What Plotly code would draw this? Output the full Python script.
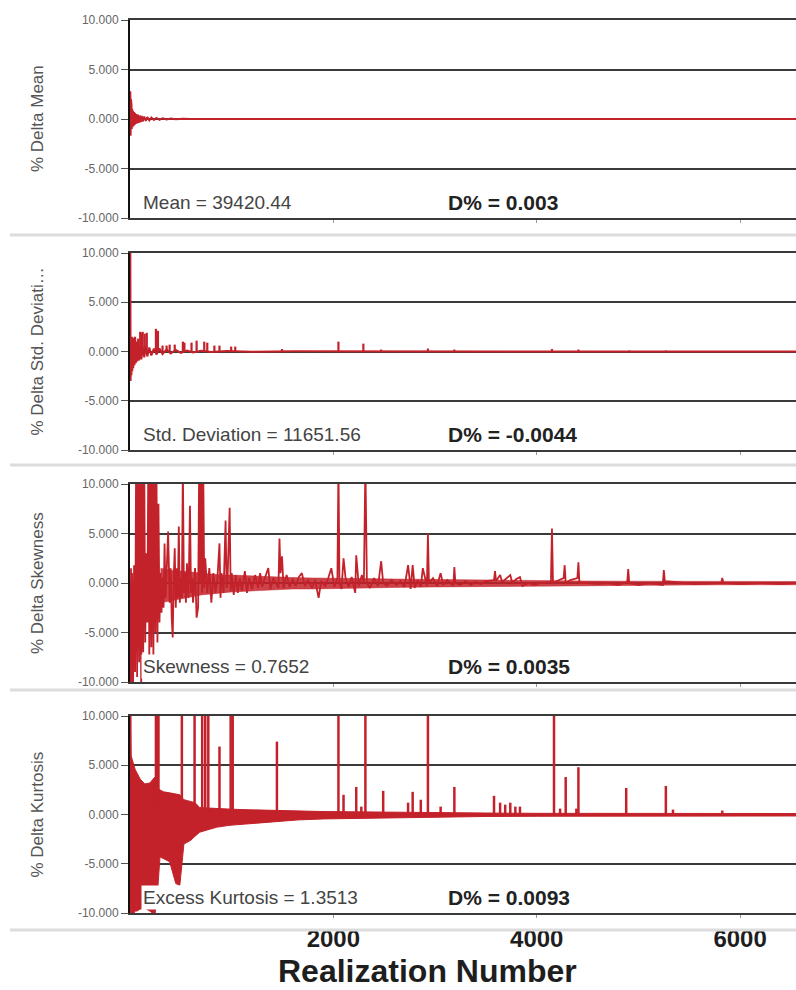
import plotly.graph_objects as go

# ---------------- text / ticks ----------------
x_tick_vals = [2000, 4000, 6000]
x_tick_text = ["2000", "4000", "6000"]
y_tick_vals = [-10, -5, 0, 5, 10]
y_tick_text = ["-10.000", "-5.000", "0.000", "5.000", "10.000"]

panel_titles = ["% Delta Mean", "% Delta Std. Deviati\u2026", "% Delta Skewness", "% Delta Kurtosis"]
stat_labels = ["Mean = 39420.44", "Std. Deviation = 11651.56", "Skewness = 0.7652", "Excess Kurtosis = 1.3513"]
delta_labels = ["D% = 0.003", "D% = -0.0044", "D% = 0.0035", "D% = 0.0093"]
x_title = "Realization Number"

# ---------------- panel 1 : mean ----------------
mean_x = [0, 3, 6, 9, 12, 15, 18, 22, 26, 30,
          35, 40, 45, 50, 56, 62, 70, 78, 86, 95,
          105, 115, 125, 140, 155, 170, 190, 210, 235, 260,
          290, 320, 360, 400, 450, 520, 600, 800, 1200, 2000,
          3000, 4000, 5000, 6000, 6550]
mean_y = [0, 2.8, -1.7, 2.0, -1.2, 1.4, -1.0, 1.0, -0.8, 0.8,
          -0.7, 0.7, -0.6, 0.6, -0.5, 0.5, -0.45, 0.45, -0.4, 0.35,
          -0.3, 0.3, -0.25, 0.25, -0.2, 0.2, -0.15, 0.15, -0.1, 0.1,
          -0.08, 0.08, -0.05, 0.05, -0.03, 0.03, 0.0, 0.02, 0.0, 0.01,
          0.0, 0.0, 0.0, 0.0, 0.0]

# ---------------- panel 2 : std deviation ----------------
std_x = [0, 3, 6, 10, 14, 18, 22, 27, 32, 38,
         44, 50, 57, 64, 72, 80, 90, 100, 112, 125,
         140, 155, 170, 190, 210, 235, 260, 290, 320, 360,
         400, 450, 500, 560, 620, 700, 800, 950, 1200, 1600,
         2200, 3000, 4000, 5000, 6000, 6550]
std_y = [0, 12, -3.0, 1.2, -2.4, 1.5, -2.0, 1.0, -1.7, 1.4,
         -1.4, 0.9, -1.2, 1.0, -1.0, 0.7, -0.9, 0.6, -0.8, 0.5,
         -0.6, 0.5, -0.5, 0.4, -0.4, 0.3, -0.3, 0.3, -0.25, 0.2,
         -0.2, 0.15, -0.15, 0.1, -0.1, 0.08, -0.06, 0.05, -0.03, 0.02,
         0.0, 0.01, 0.0, 0.0, 0.0, 0.0]
std_spike_x = [50, 80, 100, 115, 125, 145, 165, 255, 275, 320,
               360, 390, 440, 520, 535, 605, 655, 730, 760, 830,
               880, 995, 1035, 1495, 2050, 2295, 2470, 2930, 3190, 4150,
               4410, 4910, 5270]
std_spike_y = [1.5, 1.3, 2.0, 1.9, 2.0, 1.8, 1.9, 2.3, 2.1, 0.6,
               0.6, 0.7, 0.7, 1.0, 0.9, 0.9, 1.1, 1.0, 0.9, 0.6,
               0.6, 0.5, 0.5, 0.25, 1.0, 0.8, 0.2, 0.3, 0.2, 0.25,
               0.2, 0.1, 0.1]

# ---------------- panel 3 : skewness ----------------
skew_x = [0, 5, 10, 15, 20, 30, 40, 50, 60, 70,
          80, 90, 100, 110, 120, 130, 140, 150, 160, 170,
          180, 190, 200, 210, 220, 230, 240, 250, 260, 270,
          280, 290, 300, 310, 320, 330, 340, 350, 360, 375,
          390, 400, 410, 420, 430, 440, 450, 460, 470, 480,
          490, 500, 510, 520, 530, 540, 550, 560, 575, 590,
          600, 610, 620, 640, 655, 670, 680, 690, 700, 710,
          720, 730, 740, 760, 780, 800, 820, 840, 860, 880,
          890, 900, 920, 940, 950, 960, 980, 990, 1000, 1020,
          1040, 1060, 1080, 1100, 1130, 1150, 1170, 1200, 1230, 1260,
          1280, 1300, 1330, 1360, 1380, 1410, 1460, 1470, 1480, 1495,
          1510, 1540, 1570, 1600, 1630, 1660, 1690, 1720, 1750, 1790,
          1820, 1855, 1880, 1920, 1950, 1980, 2010, 2040, 2050, 2060,
          2080, 2100, 2120, 2150, 2180, 2215, 2225, 2250, 2280, 2300,
          2315, 2330, 2360, 2400, 2440, 2470, 2490, 2530, 2570, 2620,
          2660, 2700, 2735, 2760, 2780, 2800, 2830, 2860, 2880, 2920,
          2930, 2940, 2980, 3020, 3055, 3080, 3120, 3180, 3190, 3200,
          3250, 3300, 3350, 3400, 3450, 3500, 3580, 3590, 3600, 3640,
          3660, 3700, 3740, 3760, 3800, 3835, 3860, 3920, 3980, 4040,
          4140, 4150, 4160, 4200, 4265, 4275, 4285, 4330, 4400, 4410,
          4420, 4500, 4600, 4700, 4800, 4890, 4900, 4910, 5000, 5100,
          5240, 5250, 5260, 5350, 5450, 5550, 5815, 5825, 5835, 6000,
          6200, 6400, 6550]
skew_y = [0, -12, 1.5, -12, 1.0, -10.5, 1.8, -9, 12, -9.5,
          12, -8, 12, -10.5, 12, -7, 12, -6, 3, -4,
          12, -7.5, 12, -6.5, 12, -7.5, 12, -5, 12, -6,
          8, -4, 1.0, -3, 0.5, -2.5, 4.0, -1.5, 1.0, 5.2,
          -2.0, 1.5, -3.5, -5.5, 0.5, 3.5, -2.5, 1.5, -1.5, 5.7,
          -2.0, 0.5, -1.5, 12, -1.0, 1.0, -2.0, 2.0, -1.5, 7.8,
          -1.0, 0.5, -2.0, 1.5, -3.5, -2.5, 12, 0, 12, -1.0,
          12, -0.5, 2.5, -1.0, 1.5, -2.0, 1.0, -1.0, 0.5, 4.0,
          -1.5, 1.0, -1.0, 6.3, -0.5, 0.5, 7.6, -0.8, 1.0, -1.2,
          0.8, -1.0, 0.5, -0.8, 1.2, -1.0, 0.5, -0.6, 0.8, -0.5,
          1.0, -0.4, 0.6, 1.5, -0.6, 0.5, -0.5, 4.5, 1.0, 2.7,
          -0.5, 0.8, -0.4, 0.4, -0.3, 0.6, 1.0, -0.3, 0.3, -0.5,
          0.3, -1.5, 0.2, -0.3, 0.5, 1.5, -0.4, 0.5, 12, 0.0,
          -0.6, 2.5, 0.5, -0.4, 0.6, -1.0, 2.8, -0.3, 0.8, 0.0,
          12, 0.0, -0.5, 0.5, -0.3, 2.2, 0.0, -0.3, 0.3, -0.2,
          0.2, -0.4, 1.8, -0.6, 1.8, -0.5, 0.3, -0.4, 1.5, -0.3,
          5.0, 0.0, 0.5, -0.3, 1.0, -0.2, 0.3, -0.3, 1.6, 0.0,
          -0.2, 0.2, -0.2, 0.1, -0.1, 0.2, 0.3, 1.2, 0.2, 0.8,
          0.1, 0.5, 0.8, 0.0, 0.4, 0.6, -0.3, 0.0, -0.2, 0.0,
          0.1, 5.5, 0.0, 0.2, 0.5, 1.8, 0.0, 0.3, 0.5, 2.1,
          0.0, 0.0, -0.1, 0.0, -0.2, 0.1, 1.4, 0.0, -0.2, 0.0,
          -0.2, 1.3, 0.2, 0.1, 0.0, -0.1, 0.0, 0.5, 0.0, -0.1,
          0.0, -0.1, 0.0]
# envelope of the dense fluctuation band around zero (skewness)
skew_band_x = [300, 400, 500, 600, 700, 800, 900, 1000, 1200, 1400,
               1600, 1800, 2000, 2300, 2600, 3000, 3500, 4000, 4500, 5000,
               5500, 6000, 6550]
skew_band_upper = [1.5, 1.3, 1.2, 1.1, 1.0, 0.9, 0.8, 0.8, 0.7, 0.6,
                   0.55, 0.5, 0.5, 0.45, 0.4, 0.35, 0.3, 0.25, 0.2, 0.18,
                   0.15, 0.15, 0.15]
skew_band_lower = [-2.0, -1.8, -1.6, -1.4, -1.2, -1.1, -1.0, -0.9, -0.8, -0.7,
                   -0.6, -0.6, -0.55, -0.5, -0.45, -0.4, -0.35, -0.3, -0.25, -0.22,
                   -0.2, -0.18, -0.18]

# ---------------- panel 4 : excess kurtosis ----------------
kurt_env_x = [0, 10, 30, 50, 70, 100, 145, 195, 245, 270,
              295, 330, 390, 450, 490, 530, 560, 600, 640, 685,
              750, 850, 975, 1100, 1270, 1450, 1650, 1900, 2150, 2400,
              2650, 3000, 3500, 4000, 5000, 6550]
kurt_upper = [12, 6.0, 5.3, 4.6, 4.2, 3.6, 3.1, 3.2, 3.8, 2.6,
              2.5, 2.3, 2.2, 2.1, 2.0, 1.5, 1.4, 1.3, 1.2, 0.7,
              0.65, 0.6, 0.55, 0.5, 0.45, 0.4, 0.35, 0.3, 0.28, 0.25,
              0.2, 0.18, 0.15, 0.12, 0.1, 0.1]
kurt_lower = [-12, -10.5, -10.2, -9.8, -9.8, -9.6, -9.5, -9.8, -10.2, -8.0,
              -4.3, -4.5, -4.8, -7.0, -7.2, -3.0, -2.8, -2.6, -2.2, -1.8,
              -1.6, -1.3, -1.1, -1.0, -0.8, -0.7, -0.55, -0.45, -0.4, -0.35,
              -0.3, -0.25, -0.2, -0.18, -0.15, -0.15]
kurt_spike_x = [3, 255, 265, 280, 510, 635, 710, 740, 770, 880,
                990, 1010, 1445, 2050, 2100, 2225, 2275, 2315, 2490, 2735,
                2780, 2860, 2930, 3055, 3190, 3580, 3640, 3690, 3740, 3790,
                3835, 4170, 4230, 4285, 4390, 4410, 4880, 5270, 5340, 5825]
kurt_spike_y = [12, 12, 12, 12, 12, 12, 12, 12, 12, 6.9,
                12, 12, 7.4, 12, 2.0, 2.8, 0.8, 12, 2.4, 1.2,
                2.3, 1.5, 12, 0.8, 2.8, 1.9, 1.2, 1.0, 1.2, 0.8,
                0.8, 12, 0.6, 3.8, 0.6, 4.8, 2.7, 2.9, 0.5, 0.4]

# ---------------- styling ----------------
RED = "#c3222a"
FONT = "Liberation Sans, Arial, sans-serif"
W, H = 796, 990
L_MARGIN = 130
# panel vertical extents in pixels (top, bottom)
panel_px = [(20, 218), (253, 450), (484, 682), (716, 913)]
separators_px = [235, 465, 690, 930]


def spikes(xs, ys):
    sx, sy = [], []
    for x, y in zip(xs, ys):
        sx += [x, x, None]
        sy += [0, y, None]
    return sx, sy


fig = go.Figure()


def add(trace, i):
    trace.update(xaxis="x" if i == 1 else f"x{i}", yaxis="y" if i == 1 else f"y{i}")
    fig.add_trace(trace)


add(go.Scatter(x=mean_x, y=mean_y, mode="lines", line=dict(color=RED, width=2)), 1)

add(go.Scatter(x=std_x, y=std_y, mode="lines", line=dict(color=RED, width=2)), 2)
sx, sy = spikes(std_spike_x, std_spike_y)
add(go.Scatter(x=sx, y=sy, mode="lines", line=dict(color=RED, width=2.2)), 2)

add(go.Scatter(x=skew_band_x, y=skew_band_lower, mode="lines", line=dict(color=RED, width=0.5)), 3)
add(go.Scatter(x=skew_band_x, y=skew_band_upper, mode="lines", line=dict(color=RED, width=0.5),
               fill="tonexty", fillcolor="rgba(195,34,42,0.85)"), 3)
add(go.Scatter(x=skew_x, y=skew_y, mode="lines", line=dict(color=RED, width=1.8)), 3)

add(go.Scatter(x=kurt_env_x, y=kurt_lower, mode="lines", line=dict(color=RED, width=1)), 4)
add(go.Scatter(x=kurt_env_x, y=kurt_upper, mode="lines", line=dict(color=RED, width=1),
               fill="tonexty", fillcolor=RED), 4)
sx, sy = spikes(kurt_spike_x, kurt_spike_y)
add(go.Scatter(x=sx, y=sy, mode="lines", line=dict(color=RED, width=2.5)), 4)

layout = dict(
    width=W, height=H,
    margin=dict(l=L_MARGIN, r=0, t=0, b=0, autoexpand=False),
    paper_bgcolor="white", plot_bgcolor="white",
    showlegend=False,
    font=dict(family=FONT, color="#444"),
)

annotations = []
shapes = []
for i, (top, bot) in enumerate(panel_px, start=1):
    dom = [1 - bot / H, 1 - top / H]
    xa = "xaxis" if i == 1 else f"xaxis{i}"
    ya = "yaxis" if i == 1 else f"yaxis{i}"
    xref = "x" if i == 1 else f"x{i}"
    yref = "y" if i == 1 else f"y{i}"
    layout[xa] = dict(
        domain=[0, 1], anchor=yref, range=[0, 6550], automargin=False,
        showgrid=False, zeroline=False,
        showline=True, mirror=True, linecolor="#3a3a3a", linewidth=2,
        ticks="outside", ticklen=3, tickcolor="#999",
        tickvals=x_tick_vals, ticktext=x_tick_text,
        showticklabels=(i == 4),
        tickfont=dict(size=24, family=FONT, color="#1e1e1e", weight="bold"),
    )
    layout[ya] = dict(
        domain=dom, anchor=xref, range=[-10, 10], automargin=False,
        tickvals=y_tick_vals, ticktext=y_tick_text,
        showgrid=True, gridcolor="#3a3a3a", gridwidth=2, zeroline=False,
        showline=True, linecolor="#111", linewidth=2,
        ticks="outside", ticklen=7, tickcolor="#555",
        tickfont=dict(size=12, family=FONT, color="#666"),
    )
    annotations.append(dict(
        text=panel_titles[i - 1], xref="paper", yref="paper",
        x=(37 - L_MARGIN) / (W - L_MARGIN), y=1 - (top + bot) / 2 / H,
        textangle=-90, showarrow=False, xanchor="center", yanchor="middle",
        font=dict(size=17, family=FONT, color="#555"),
    ))
    annotations.append(dict(
        text=stat_labels[i - 1], xref=xref, yref=yref, x=110, y=-8.4,
        xanchor="left", yanchor="middle", showarrow=False, bgcolor="white",
        font=dict(size=19, family=FONT, color="#444"),
    ))
    annotations.append(dict(
        text=delta_labels[i - 1], xref=xref, yref=yref, x=3110, y=-8.4,
        xanchor="left", yanchor="middle", showarrow=False,
        font=dict(size=21, family=FONT, color="#222", weight="bold"),
    ))

for ypx in separators_px:
    shapes.append(dict(type="line", xref="paper", yref="paper",
                       x0=(10 - L_MARGIN) / (W - L_MARGIN), x1=1,
                       y0=1 - ypx / H, y1=1 - ypx / H,
                       line=dict(color="#dcdcdc", width=3)))

annotations.append(dict(
    text=x_title, xref="paper", yref="paper",
    x=(427 - L_MARGIN) / (W - L_MARGIN), y=1 - 971 / H,
    xanchor="center", yanchor="middle", showarrow=False,
    font=dict(size=32, family=FONT, color="#1e1e1e", weight="bold"),
))

layout["annotations"] = annotations
layout["shapes"] = shapes
fig.update_layout(**layout)

fig.write_html("out.html", config={"displayModeBar": False},
               post_script="document.body.style.margin='0';")
